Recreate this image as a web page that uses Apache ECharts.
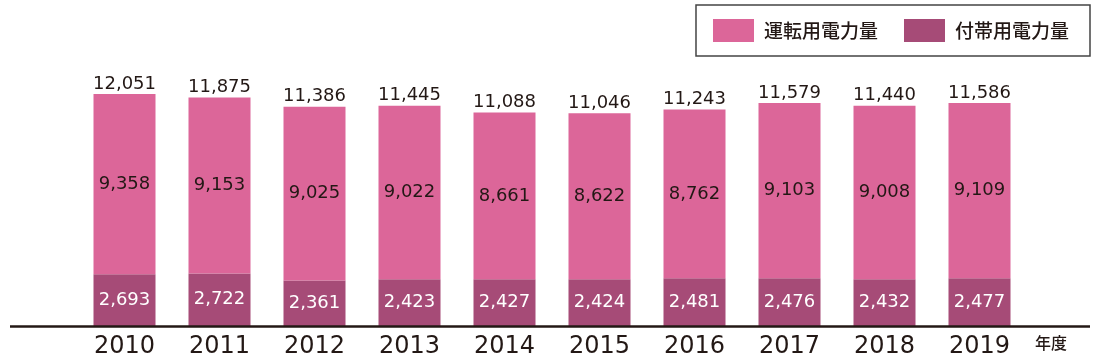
<!DOCTYPE html>
<html lang="ja">
<head>
    <meta charset="UTF-8">
    <title>電力量</title>
    <script src="https://cdn.jsdelivr.net/npm/echarts@6/dist/echarts.min.js"></script>
    <style>
        body { margin: 0; background: #fff; }
        #main { width: 1100px; height: 354px; }
    </style>
</head>
<body>
<div id="main"></div>
<script type="text/javascript">
    // 年度
    var years = ['2010', '2011', '2012', '2013', '2014', '2015', '2016', '2017', '2018', '2019'];
    // 運転用電力量
    var unten = [9358, 9153, 9025, 9022, 8661, 8622, 8762, 9103, 9008, 9109];
    // 付帯用電力量
    var futai = [2693, 2722, 2361, 2423, 2427, 2424, 2481, 2476, 2432, 2477];

    var total = [];
    for (var i = 0; i < years.length; i++) {
        total.push(unten[i] + futai[i]);
    }

    function fmt(v) {
        return Number(v).toLocaleString('en-US');
    }

    var textColor = '#231815';
    var myChart = echarts.init(document.getElementById('main'));

    var option = {
        animation: false,
        textStyle: {fontFamily: 'DejaVu Sans, Noto Sans CJK JP', color: textColor},
        legend: {
            data: ['運転用電力量', '付帯用電力量'],
            icon: 'rect',
            right: 10,
            top: 5,
            itemWidth: 41,
            itemHeight: 23,
            itemGap: 26,
            padding: [14, 21, 14, 17],
            borderColor: '#444',
            borderWidth: 1.5,
            textStyle: {
                fontFamily: 'Noto Sans CJK JP',
                fontSize: 19,
                fontWeight: 500,
                color: textColor,
                padding: [0, 0, 0, 5]
            }
        },
        grid: {left: 77, right: 73, top: 18, bottom: 28, outerBoundsMode: 'none', containLabel: false},
        xAxis: {
            type: 'category',
            data: years,
            axisLine: {show: false},
            axisTick: {show: false},
            axisLabel: {fontSize: 24, color: textColor, margin: 9},
            name: '年度',
            nameLocation: 'end',
            nameGap: 8,
            nameTextStyle: {
                fontFamily: 'Noto Sans CJK JP',
                fontSize: 16,
                fontWeight: 500,
                color: textColor,
                verticalAlign: 'top',
                padding: [9, 0, 0, 0]
            }
        },
        yAxis: {
            type: 'value',
            min: 0,
            max: 16000,
            show: false,
            splitLine: {show: false}
        },
        graphic: [{
            type: 'line',
            shape: {x1: 10, y1: 326.5, x2: 1090, y2: 326.5},
            style: {stroke: textColor, lineWidth: 2.5},
            z: 100
        }],
        series: [
            {
                name: '合計',
                type: 'bar',
                data: total,
                barWidth: 62,
                barGap: '-100%',
                itemStyle: {color: 'rgba(0,0,0,0)'},
                label: {
                    show: true,
                    position: 'top',
                    distance: 1,
                    fontSize: 18,
                    color: textColor,
                    formatter: function (p) { return fmt(p.value); }
                },
                silent: true,
                z: 1
            },
            {
                name: '付帯用電力量',
                type: 'bar',
                stack: 'all',
                data: futai,
                barWidth: 62,
                itemStyle: {color: '#a64b77'},
                label: {
                    show: true,
                    position: 'inside',
                    fontSize: 18,
                    color: '#fff',
                    formatter: function (p) { return fmt(p.value); }
                },
                z: 2
            },
            {
                name: '運転用電力量',
                type: 'bar',
                stack: 'all',
                data: unten,
                barWidth: 62,
                itemStyle: {color: '#dc6699'},
                label: {
                    show: true,
                    position: 'inside',
                    fontSize: 18,
                    color: textColor,
                    formatter: function (p) { return fmt(p.value); }
                },
                z: 2
            }
        ]
    };

    myChart.setOption(option);
</script>
</body>
</html>
